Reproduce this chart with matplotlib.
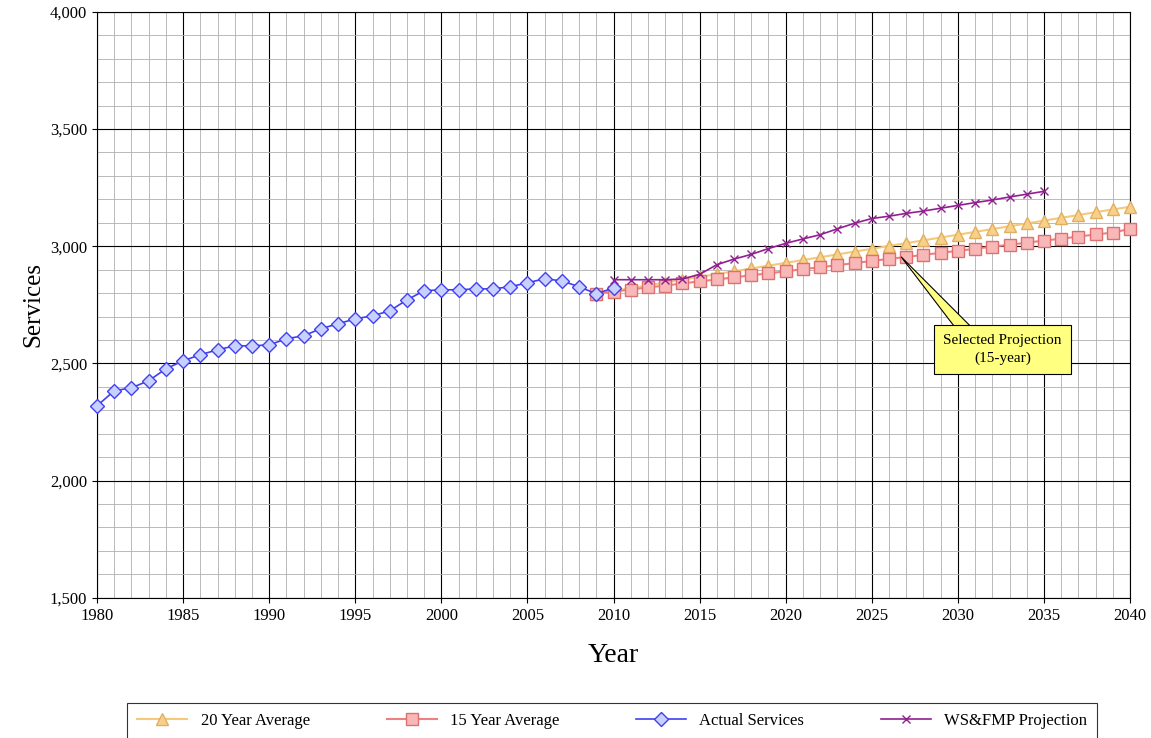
import matplotlib
matplotlib.use("Agg")
import matplotlib.pyplot as plt
from matplotlib.ticker import MultipleLocator, FuncFormatter
from matplotlib.patches import Polygon

plt.rcParams['font.family'] = ['Liberation Serif', 'DejaVu Serif']

act_years = list(range(1980, 2011))
actual = [2319, 2383, 2396, 2426, 2477, 2511, 2537, 2558, 2575, 2575, 2579, 2605, 2618,
          2648, 2669, 2690, 2703, 2724, 2771, 2810, 2814, 2814, 2818, 2818, 2827, 2844,
          2861, 2852, 2827, 2797, 2822]
proj_years = list(range(2009, 2041))
avg15 = [2797, 2806, 2815, 2824, 2832, 2841, 2850, 2858, 2867, 2876, 2884, 2893, 2902,
         2910, 2919, 2928, 2937, 2946, 2954, 2963, 2972, 2980, 2989, 2998, 3006, 3015,
         3024, 3032, 3041, 3050, 3058, 3074]
avg20 = [2797, 2809, 2821, 2833, 2845, 2857, 2869, 2881, 2893, 2905, 2917, 2929, 2941,
         2953, 2965, 2977, 2989, 3001, 3013, 3025, 3037, 3049, 3061, 3073, 3085, 3097,
         3109, 3121, 3133, 3145, 3157, 3168]
ws_years = list(range(2010, 2036))
wsfmp = [2857, 2857, 2857, 2857, 2860, 2880, 2921, 2945, 2965, 2990, 3012, 3031, 3049,
         3074, 3098, 3118, 3128, 3140, 3150, 3162, 3174, 3186, 3197, 3210, 3222, 3234]

fig = plt.figure(figsize=(11.51, 7.38), dpi=100)
ax = fig.add_axes([0.0843, 0.19, 0.8975, 0.794])

kw = dict(clip_on=False, zorder=3)
ax.plot(proj_years, avg20, color='#f5c87a', marker='^', ms=9, mfc='#f9d08a', mec='#e0b060', lw=1.5, label='20 Year Average', **kw)
ax.plot(proj_years, avg15, color='#f08080', marker='s', ms=8, mfc='#f8b8b8', mec='#e07070', lw=1.5, label='15 Year Average', **kw)
ax.plot(act_years, actual, color='#4040f0', marker='D', ms=7, mfc='#c8d0ff', mec='#4040f0', lw=1.2, label='Actual Services', **kw)
ax.plot(ws_years, wsfmp, color='#902090', marker='x', ms=6, lw=1.2, label='WS&FMP Projection', **kw)

ax.set_xlim(1980, 2040)
ax.set_ylim(1500, 4000)
ax.xaxis.set_major_locator(MultipleLocator(5))
ax.xaxis.set_minor_locator(MultipleLocator(1))
ax.yaxis.set_major_locator(MultipleLocator(500))
ax.yaxis.set_minor_locator(MultipleLocator(100))
ax.yaxis.set_major_formatter(FuncFormatter(lambda v, p: f"{int(v):,}"))
ax.grid(which='major', color='black', lw=0.8)
ax.grid(which='minor', color='#b0b0b0', lw=0.6)
ax.set_axisbelow(True)
ax.tick_params(which='minor', length=0)
ax.tick_params(labelsize=12)
ax.set_xlabel('Year', fontsize=20, labelpad=14)
ax.set_ylabel('Services', fontsize=18)

# callout
ax.add_patch(Polygon([(2026.7, 2955), (2030.6, 2580), (2031.8, 2580)], closed=True,
                     fc='#ffff80', ec='black', lw=0.8, zorder=4))
ax.text(2032.6, 2560, 'Selected Projection\n(15-year)', ha='center', va='center',
        fontsize=11, linespacing=1.5, zorder=5,
        bbox=dict(boxstyle='square,pad=0.6', fc='#ffff80', ec='black', lw=0.8))

leg = fig.legend(loc='lower center', bbox_to_anchor=(0.532, -0.012), ncol=4, fontsize=12,
                 frameon=True, fancybox=False, edgecolor='black', handlelength=3,
                 columnspacing=4.6, borderpad=0.6)
leg.get_frame().set_linewidth(0.8)

fig.savefig('out.png', dpi=100)
